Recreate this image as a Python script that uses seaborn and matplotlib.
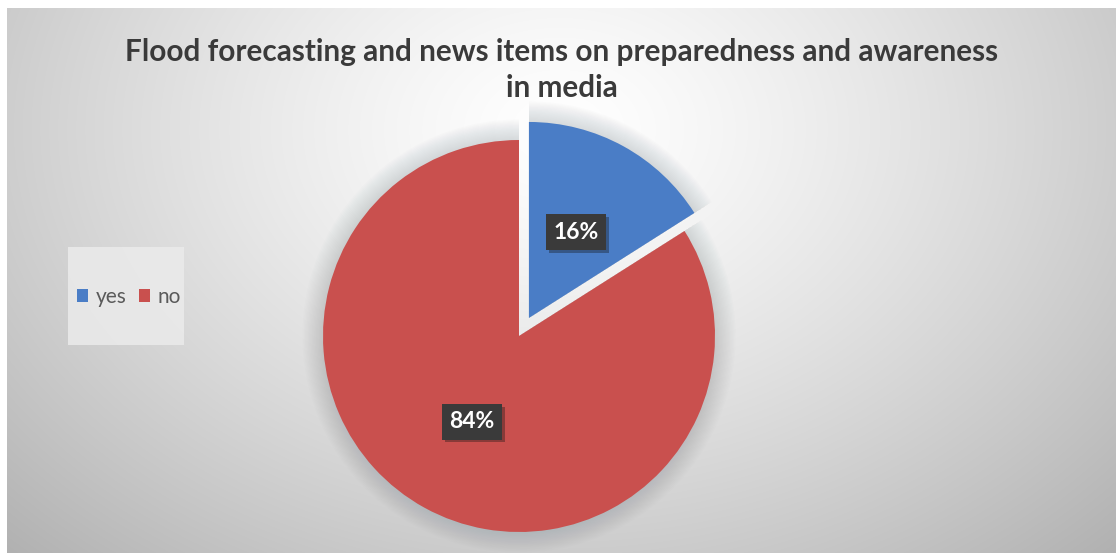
import numpy as np
import matplotlib
matplotlib.use("Agg")
import matplotlib.pyplot as plt
import matplotlib.patheffects as pe
from matplotlib.patches import Rectangle, Patch
import seaborn as sns

# Survey answers shown as pie shares (percent)
categories = ["yes", "no"]
shares = [16, 84]
explode_amounts = [0.105, 0.0]
title_lines = [
    "Flood forecasting and news items on preparedness and awareness",
    "in media",
]

sns.set_theme(style="white")
plt.rcParams["font.family"] = ["Lato", "DejaVu Sans"]
palette = sns.color_palette(["#4A7DC6", "#C9504E"])

W, H = 1119, 555
fig = plt.figure(figsize=(W / 100, H / 100), dpi=100)
fig.patch.set_facecolor("white")

# Background panel: soft radial gradient, light at top centre, grey at edges
bg = fig.add_axes([0, 0, 1, 1])
x0, x1, y0, y1 = 7, 1116, 8, 553
xx, yy = np.meshgrid(np.arange(x0, x1) + 0.5, np.arange(y0, y1) + 0.5)
d = np.hypot((xx - 560) / 700, (yy - 130) / 520)
g = np.clip(1 - 0.26 * d ** 1.3, 0, 1)
bg.imshow(np.dstack([g, g, g]), extent=(x0, x1, y1, y0),
          interpolation="bilinear", aspect="auto", zorder=0)
bg.set_xlim(0, W)
bg.set_ylim(H, 0)
bg.axis("off")

# Legend box
bg.add_patch(Rectangle((68, 247), 116, 98, facecolor="#ebebeb",
                       edgecolor="none", alpha=0.85, zorder=1))
handles = [Patch(facecolor=c, edgecolor="none", label=lab)
           for c, lab in zip(palette, categories)]
bg.legend(handles=handles, loc="center", bbox_to_anchor=(129 / W, 1 - 297 / H),
          bbox_transform=fig.transFigure, ncol=2, frameon=False,
          handlelength=0.55, handleheight=0.55, handletextpad=0.35,
          columnspacing=0.6, fontsize=15, labelcolor="#5a5a5a")

# Title
for text, ypix in zip(title_lines, [52, 88]):
    fig.text(562 / W, 1 - ypix / H, text, ha="center", va="center",
             fontsize=21.4, fontweight="bold", color="#3a3a3a")

# Pie axes: radius 1 in data units spans R pixels
R = 196
cx, cy = 519, 336
half = 1.25 * R
ax = fig.add_axes([(cx - half) / W, (H - cy - half) / H, 2 * half / W, 2 * half / H])

# Soft glow around the slices
for k in range(1, 16):
    ax.pie(shares, explode=explode_amounts, radius=1 + 0.007 * k,
           colors=["#7f8a90"] * len(shares), startangle=90, counterclock=False,
           wedgeprops=dict(alpha=0.018, linewidth=0))

wedges, texts, autotexts = ax.pie(
    shares, explode=explode_amounts, colors=palette, startangle=90,
    counterclock=False, autopct=lambda p: f"{p:.0f}%", pctdistance=0.5,
    wedgeprops=dict(linewidth=0),
    textprops=dict(color="white", fontsize=16.5, fontweight="bold"),
)
for t in autotexts:
    t.set_bbox(dict(boxstyle="square,pad=0.32", facecolor="#3a3a3a", edgecolor="none"))
    t.get_bbox_patch().set_path_effects(
        [pe.SimplePatchShadow(offset=(2, -2), alpha=0.35), pe.Normal()])

ax.set_xlim(-1.25, 1.25)
ax.set_ylim(-1.25, 1.25)
ax.axis("off")

fig.savefig("out.png", dpi=100)
